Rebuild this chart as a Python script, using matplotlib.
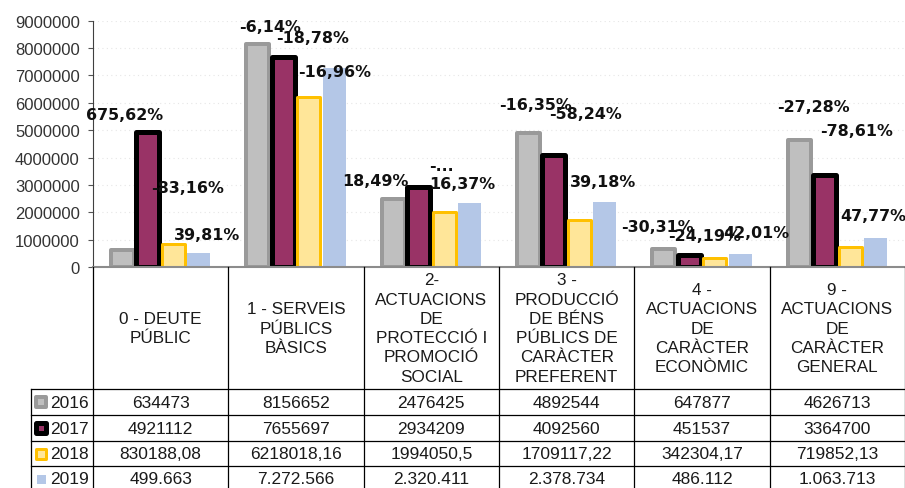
import matplotlib.pyplot as plt
import numpy as np
from matplotlib.patches import Rectangle

categories = ['0 - DEUTE\nPÚBLIC',
              '1 - SERVEIS\nPÚBLICS\nBÀSICS',
              '2-\nACTUACIONS\nDE\nPROTECCIÓ I\nPROMOCIÓ\nSOCIAL',
              '3 -\nPRODUCCIÓ\nDE BÉNS\nPÚBLICS DE\nCARÀCTER\nPREFERENT',
              '4 -\nACTUACIONS\nDE\nCARÀCTER\nECONÒMIC',
              '9 -\nACTUACIONS\nDE\nCARÀCTER\nGENERAL']
years = ['2016', '2017', '2018', '2019']
v2016 = [634473, 8156652, 2476425, 4892544, 647877, 4626713]
v2017 = [4921112, 7655697, 2934209, 4092560, 451537, 3364700]
v2018 = [830188.08, 6218018.16, 1994050.5, 1709117.22, 342304.17, 719852.13]
v2019 = [499663, 7272566, 2320411, 2378734, 486112, 1063713]

# percentage labels shown on the 2017, 2018 and 2019 bars
pct2017 = ['675,62%', '-6,14%', '18,49%', '-16,35%', '-30,31%', '-27,28%']
pct2018 = ['-83,16%', '-18,78%', '-...', '-58,24%', '-24,19%', '-78,61%']
pct2019 = ['39,81%', '-16,96%', '16,37%', '39,18%', '42,01%', '47,77%']
yticks = [0, 1000000, 2000000, 3000000, 4000000, 5000000, 6000000, 7000000, 8000000, 9000000]

# label offsets from the bar top, in pixels (dx right, dy down)
offs2017 = [(-23, -18), (-13, -31), (-43, -6), (-18, -51), (-32, -28), (-11, -68)]
offs2018 = [(14, -57), (4, -59), (-3, -47), (6, -107), (-10, -22), (6, -117)]
offs2019 = [(8, -19), (0, 4), (-7, -20), (-2, -20), (16, -21), (-2, -22)]

series = [v2016, v2017, v2018, v2019]
fills = ['#BFBFBF', '#993366', '#FFE699', '#B4C7E7']
edges = ['#9A9A9A', '#000000', '#FFC000', 'none']
edge_px = [4, 5, 3, 0]


def fmt2016(v):
    return str(int(v))


def fmt2018(v):
    s = f'{v:.2f}'.rstrip('0').rstrip('.')
    return s.replace('.', ',')


def fmt2019(v):
    return f'{int(v):,}'.replace(',', '.')


table_rows = [[fmt2016(v) for v in v2016],
              [fmt2016(v) for v in v2017],
              [fmt2018(v) for v in v2018],
              [fmt2019(v) for v in v2019]]

W, H = 905, 489
fig = plt.figure(figsize=(W / 100, H / 100), dpi=100)
ax = fig.add_axes([93 / W, (H - 268) / H, (W - 93) / W, (268 - 21.7) / H])

x = np.arange(len(categories))
pitch = 0.1884
width = 0.17
for j, vals in enumerate(series):
    ax.bar(x + (j - 1.5) * pitch, vals, width, color=fills[j], edgecolor=edges[j],
           linewidth=edge_px[j] * 0.72, joinstyle='round', zorder=2)

for j, (labels, offs) in enumerate([(pct2017, offs2017), (pct2018, offs2018), (pct2019, offs2019)], start=1):
    for i, lab in enumerate(labels):
        dx, dy = offs[i]
        ax.annotate(lab, (x[i] + (j - 1.5) * pitch, series[j][i]),
                    xytext=(dx * 0.72, -dy * 0.72), textcoords='offset points',
                    ha='center', va='center', fontsize=11.4, fontweight='bold',
                    family='DejaVu Sans', color='#111111', zorder=6, annotation_clip=False)

ax.set_xlim(-0.5, len(categories) - 0.5)
ax.set_ylim(0, 9000000)
ax.set_yticks(yticks)
ax.set_yticklabels([str(t) for t in yticks], family='Liberation Sans', fontsize=12, color='#333333')
ax.set_xticks([])
ax.tick_params(axis='y', direction='out', length=3.6, width=0.8, color='#555555', pad=6)
ax.yaxis.grid(True, color='#e6e6e6', linestyle=(0, (1, 3)), linewidth=0.8)
ax.set_axisbelow(True)
for s in ['top', 'right']:
    ax.spines[s].set_visible(False)
ax.spines['left'].set_color('#404040')
ax.spines['left'].set_linewidth(0.8)
ax.spines['bottom'].set_color('#8c8c8c')
ax.spines['bottom'].set_linewidth(1.5)
ax.spines['bottom'].set_zorder(3)

# data table drawn below the axes, in pixel coordinates
tab = fig.add_axes([0, 0, 1, 1])
tab.set_xlim(0, W)
tab.set_ylim(H, 0)
tab.axis('off')
tab.patch.set_visible(False)

fig.canvas.draw()
col_edges = ax.transData.transform([(e, 0) for e in np.arange(-0.5, len(categories), 1.0)])[:, 0]
row_edges = [390, 416, 442, 467, 493]
line_kw = dict(color='#000000', linewidth=0.9)

for xe in col_edges:
    tab.plot([xe, xe], [268, H + 5], **line_kw)
for ye in row_edges[:-1]:
    tab.plot([31, W], [ye, ye], **line_kw)
tab.plot([31, 31], [390, H + 5], **line_kw)

for i, cat in enumerate(categories):
    cx = (col_edges[i] + col_edges[i + 1]) / 2
    tab.text(cx, 329, cat, ha='center', va='center', family='Liberation Sans',
             fontsize=12.3, linespacing=1.36, color='#1a1a1a')
    for r in range(4):
        cy = (row_edges[r] + row_edges[r + 1]) / 2
        tab.text(cx, cy, table_rows[r][i], ha='center', va='center',
                 family='Liberation Sans', fontsize=12.5, color='#1a1a1a')

key_size = [10, 10, 10, 9]
for r, yr in enumerate(years):
    cy = (row_edges[r] + row_edges[r + 1]) / 2
    k = key_size[r]
    tab.add_patch(Rectangle((41 - k / 2, cy - k / 2), k, k, facecolor=fills[r],
                            edgecolor=edges[r], linewidth=edge_px[r] * 0.72, joinstyle='round'))
    tab.text(50, cy, yr, ha='left', va='center', family='Liberation Sans',
             fontsize=12.5, color='#1a1a1a')

fig.savefig('out.png', dpi=100)
